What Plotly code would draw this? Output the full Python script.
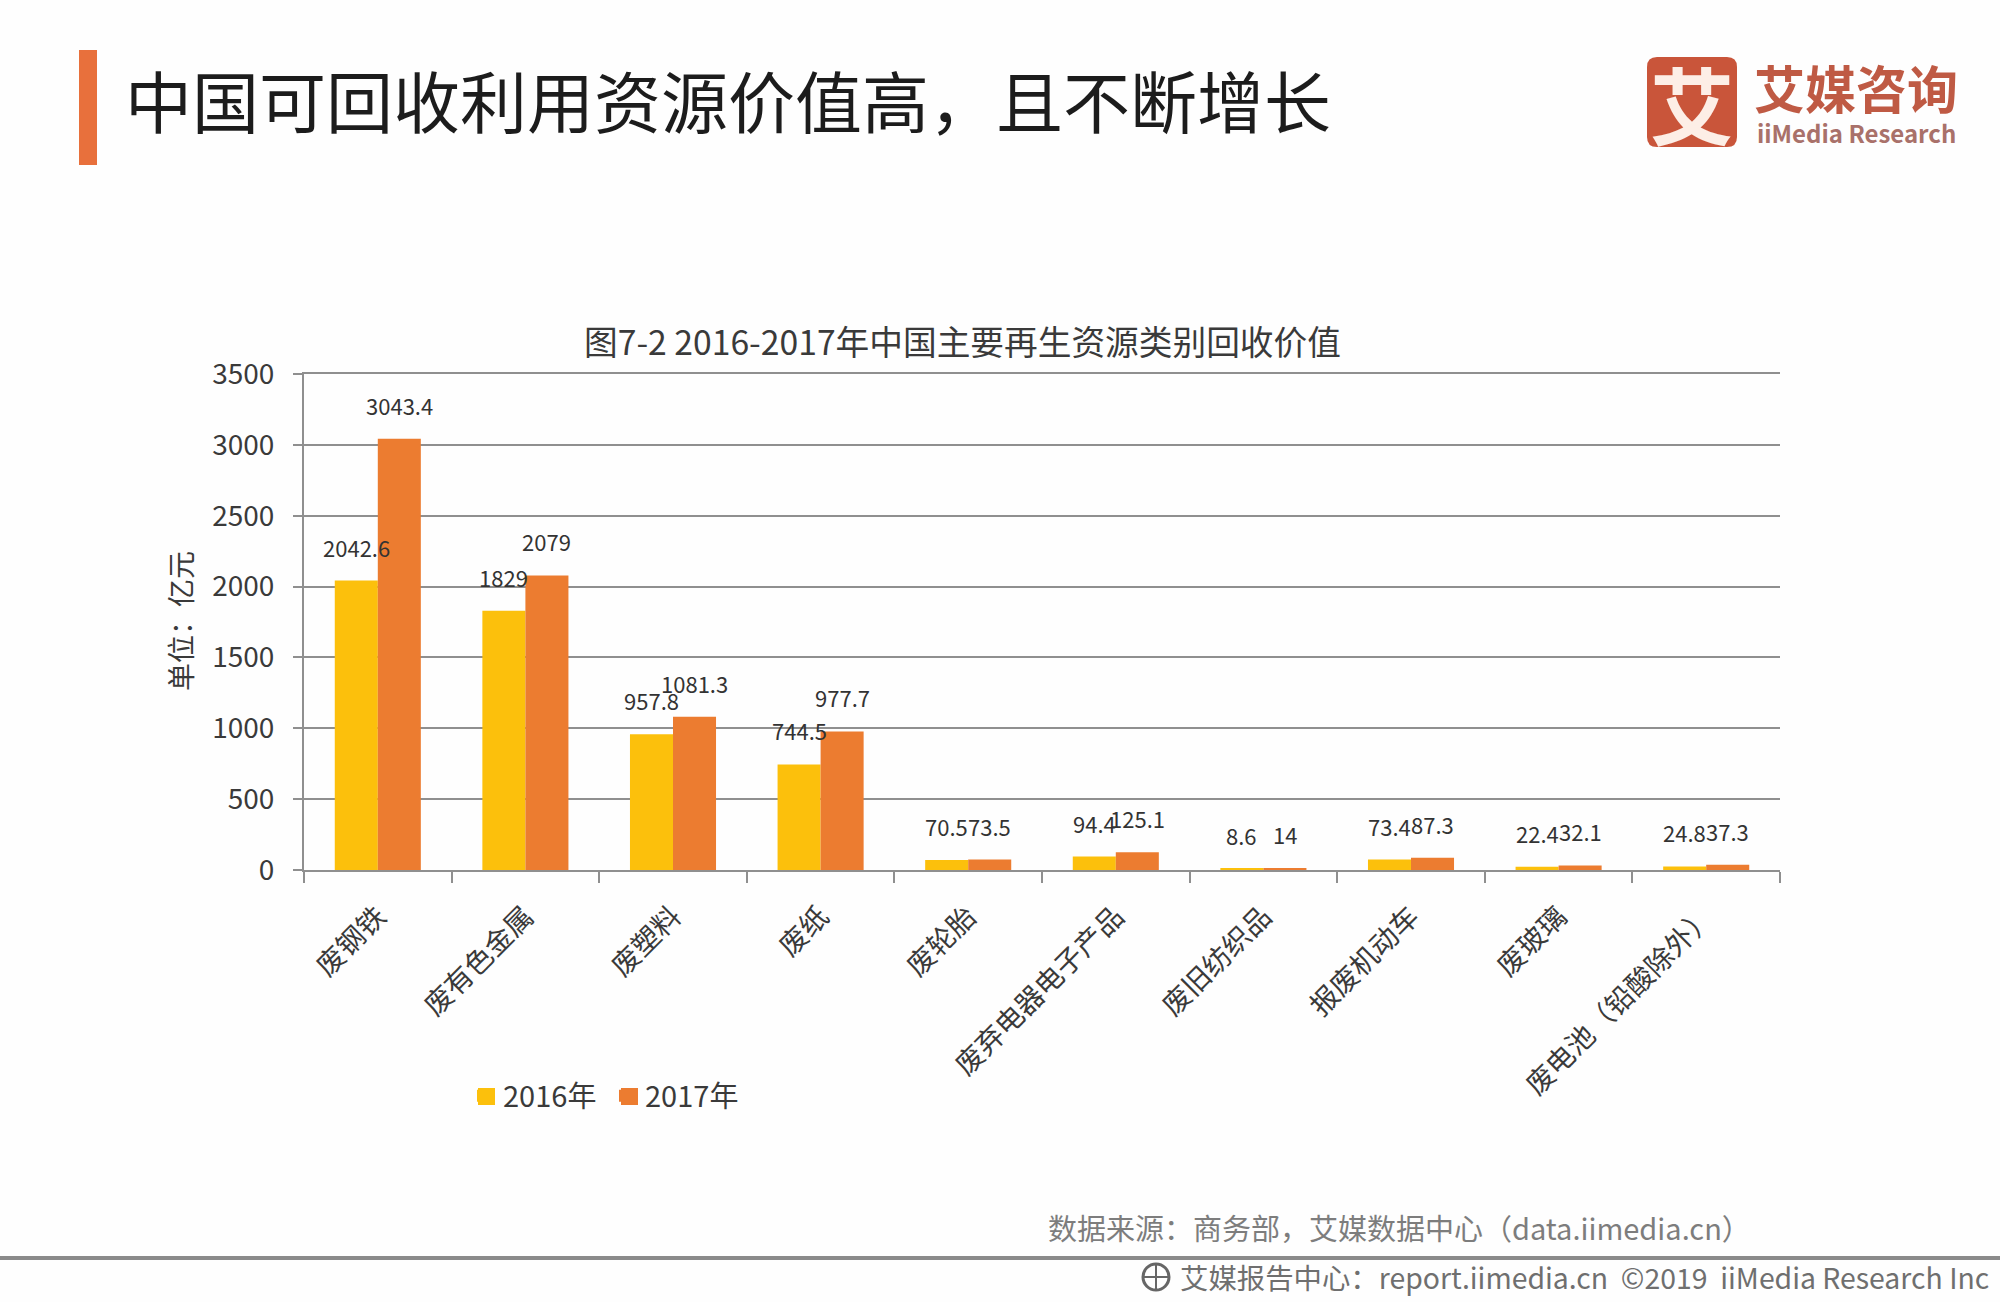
import plotly.graph_objects as go

WIDTH, HEIGHT = 2000, 1302
PLOT_LEFT, PLOT_RIGHT, PLOT_TOP, PLOT_BOTTOM = 304, 1780, 374, 870
CJK = "Noto Sans CJK SC"

categories = ["废钢铁", "废有色金属", "废塑料", "废纸", "废轮胎", "废弃电器电子产品",
              "废旧纺织品", "报废机动车", "废玻璃", "废电池（铅酸除外）"]
values_2016 = [2042.6, 1829, 957.8, 744.5, 70.5, 94.4, 8.6, 73.4, 22.4, 24.8]
values_2017 = [3043.4, 2079, 1081.3, 977.7, 73.5, 125.1, 14, 87.3, 32.1, 37.3]
y_ticks = [0, 500, 1000, 1500, 2000, 2500, 3000, 3500]

YELLOW = "#fcc00c"
ORANGE = "#ec7c30"
ACCENT = "#e8703c"
LOGO_RED = "#c9553a"
GRID = "#8f8f8f"


def px(x):
    return (x - PLOT_LEFT) / (PLOT_RIGHT - PLOT_LEFT)


def py(y):
    return (PLOT_BOTTOM - y) / (PLOT_BOTTOM - PLOT_TOP)


def page_text(x, y, text, size, color, anchor="left", bold=False, angle=0):
    return dict(xref="paper", yref="paper", x=px(x), y=py(y), text=f"<b>{text}</b>" if bold else text,
                showarrow=False, xanchor=anchor, yanchor="middle", textangle=angle,
                font=dict(family=CJK, size=size, color=color))


def page_rect(x0, y0, x1, y1, color):
    return dict(type="rect", xref="paper", yref="paper", x0=px(x0), x1=px(x1), y0=py(y0), y1=py(y1),
                fillcolor=color, line=dict(width=0), layer="above")


fig = go.Figure()
fig.add_bar(name="2016年", x=categories, y=values_2016, marker=dict(color=YELLOW, line=dict(width=0)))
fig.add_bar(name="2017年", x=categories, y=values_2017, marker=dict(color=ORANGE, line=dict(width=0)))

annotations = []
# value labels float clear of the bar tops and are allowed to collide, as in the source table layout
for values, shift in ((values_2016, -21.5), (values_2017, 21.5)):
    for cat, val in zip(categories, values):
        annotations.append(dict(x=cat, y=val, xref="x", yref="y", text=f"{val:g}", showarrow=False,
                                xshift=shift, yshift=34, yanchor="middle", xanchor="center",
                                font=dict(family=CJK, size=22, color="#333333")))

annotations += [
    page_text(123, 98, "中国可回收利用资源价值高，且不断增长", 67, "#1c1c1c"),
    page_text(582, 341, "图7-2 2016-2017年中国主要再生资源类别回收价值", 33.7, "#3a3a3a"),
    page_text(180, 621, "单位：亿元", 28, "#3a3a3a", anchor="center", angle=-90),
    page_text(1046, 1227, "数据来源：商务部，艾媒数据中心（data.iimedia.cn）", 29, "#7d7d7d"),
    page_text(1178, 1276, "艾媒报告中心：report.iimedia.cn  ©2019  iiMedia Research Inc", 28.4, "#6f6f6f"),
    page_text(1692, 102, "艾", 84, "#fdeee6", anchor="center", bold=True),
    page_text(1752, 87, "艾媒咨询", 51, "#bf5a44", bold=True),
    page_text(1755, 132, "iiMedia Research", 24, "#a9716a", bold=True),
]

shapes = [
    page_rect(79, 50, 97, 165, ACCENT),
    page_rect(0, 1256, 2000, 1260, "#8a8a8a"),
    # legend swatches are drawn a little larger than the library's default keys
    page_rect(478, 1088, 495, 1105, YELLOW),
    page_rect(621, 1088, 638, 1105, ORANGE),
    dict(type="path", xref="paper", yref="paper", layer="below", fillcolor=LOGO_RED, line=dict(width=0),
         path=(f"M {px(1657)} {py(57)} L {px(1727)} {py(57)} Q {px(1737)} {py(57)} {px(1737)} {py(67)} "
               f"L {px(1737)} {py(137)} Q {px(1737)} {py(147)} {px(1727)} {py(147)} "
               f"L {px(1657)} {py(147)} Q {px(1647)} {py(147)} {px(1647)} {py(137)} "
               f"L {px(1647)} {py(67)} Q {px(1647)} {py(57)} {px(1657)} {py(57)} Z")),
    # small globe mark in front of the footer line
    dict(type="circle", xref="paper", yref="paper", x0=px(1143), x1=px(1169), y0=py(1264), y1=py(1290),
         line=dict(color="#666666", width=3), fillcolor="rgba(0,0,0,0)"),
    dict(type="line", xref="paper", yref="paper", x0=px(1143), x1=px(1169), y0=py(1277), y1=py(1277),
         line=dict(color="#666666", width=2)),
    dict(type="line", xref="paper", yref="paper", x0=px(1156), x1=px(1156), y0=py(1264), y1=py(1290),
         line=dict(color="#666666", width=2)),
]

fig.update_layout(
    width=WIDTH, height=HEIGHT,
    margin=dict(l=PLOT_LEFT, r=WIDTH - PLOT_RIGHT, t=PLOT_TOP, b=HEIGHT - PLOT_BOTTOM, pad=0, autoexpand=False),
    paper_bgcolor="#fefefe", plot_bgcolor="#fefefe",
    barmode="group", bargap=0.417, bargroupgap=0,
    font=dict(family=CJK, size=26, color="#3a3a3a"),
    annotations=annotations, shapes=shapes,
    legend=dict(orientation="h", xref="paper", yref="paper", x=px(463), y=py(1096),
                xanchor="left", yanchor="middle", font=dict(family=CJK, size=29, color="#3a3a3a"),
                entrywidth=97, entrywidthmode="pixels",
                bgcolor="rgba(0,0,0,0)", itemclick=False, itemdoubleclick=False),
    showlegend=True,
)
fig.update_xaxes(type="category", categoryorder="array", categoryarray=categories,
                 tickangle=-45, tickson="boundaries", ticks="outside", ticklen=11, tickwidth=2,
                 ticklabelstandoff=17, mirror=True,
                 tickcolor=GRID, showline=True, linecolor=GRID, linewidth=2, showgrid=False,
                 tickfont=dict(family=CJK, size=28, color="#3a3a3a"))
fig.update_yaxes(range=[0, 3500], tickmode="array", tickvals=y_ticks, ticktext=[str(t) for t in y_ticks],
                 ticks="outside", ticklen=9, tickwidth=2, tickcolor=GRID, ticklabelstandoff=13,
                 showline=True, linecolor=GRID, linewidth=2,
                 showgrid=True, gridcolor=GRID, gridwidth=2, zeroline=False,
                 tickfont=dict(family=CJK, size=28, color="#3a3a3a"))

fig.write_html("out.html", config=dict(displayModeBar=False))
